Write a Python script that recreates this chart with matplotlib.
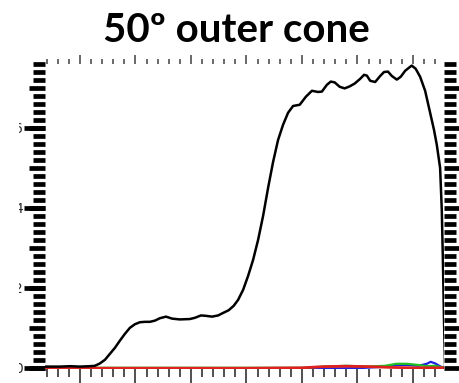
import matplotlib
matplotlib.use('Agg')
import matplotlib.pyplot as plt
from matplotlib.ticker import MultipleLocator, NullLocator
from matplotlib.transforms import Bbox

# ---- data ----
x_black = [-6.3, -3.6, -1.8, 0.0, 1.8, 2.7, 3.6, 4.5, 5.4, 6.3, 7.2, 8.1, 9.0, 9.9,
           10.8, 11.7, 12.6, 13.5, 14.4, 15.5, 16.6, 18.0, 19.8, 20.7, 21.8, 22.7,
           23.8, 24.9, 25.9, 26.8, 27.7, 28.5, 29.4, 30.3, 31.2, 32.1, 33.0, 33.9,
           34.8, 35.7, 36.6, 37.5, 38.4, 39.6, 40.7, 41.8, 42.9, 43.6, 44.5, 45.2,
           45.9, 46.8, 47.7, 48.6, 49.5, 50.5, 51.2, 51.7, 52.3, 53.2, 54.1, 54.8,
           55.5, 56.2, 57.1, 57.8, 58.6, 59.5, 59.8, 60.5, 61.3, 62.2, 63.1, 63.8,
           64.3, 64.9, 65.2, 65.4, 65.6, 65.8]
y_black = [0.03, 0.03, 0.04, 0.03, 0.04, 0.05, 0.11, 0.2, 0.35, 0.5, 0.68, 0.85, 1.0, 1.09,
           1.14, 1.15, 1.15, 1.18, 1.24, 1.28, 1.23, 1.21, 1.22, 1.25, 1.31, 1.30,
           1.28, 1.31, 1.38, 1.44, 1.55, 1.7, 1.95, 2.3, 2.7, 3.2, 3.8, 4.5,
           5.15, 5.7, 6.08, 6.38, 6.55, 6.58, 6.78, 6.93, 6.9, 6.91, 7.08, 7.16,
           7.14, 7.03, 6.99, 7.04, 7.11, 7.23, 7.33, 7.31, 7.18, 7.15, 7.3, 7.4,
           7.41, 7.3, 7.21, 7.28, 7.43, 7.53, 7.56, 7.48, 7.28, 6.93, 6.38, 5.95,
           5.58, 5.0, 3.95, 2.7, 1.2, 0.0]

x_red = [-6.3, 10.0, 30.0, 40.0, 44.0, 48.0, 52.0, 56.0, 60.0, 65.6]
y_red = [-0.01, -0.01, -0.01, 0.0, 0.03, 0.04, 0.03, 0.01, 0.0, 0.0]

x_green = [-6.3, 20.0, 40.0, 44.0, 48.0, 52.0, 55.0, 57.0, 59.0, 61.0, 62.5, 64.0, 65.6]
y_green = [0.0, 0.0, 0.0, 0.03, 0.05, 0.03, 0.05, 0.1, 0.1, 0.07, 0.04, 0.05, 0.0]

x_blue = [-6.3, 20.0, 40.0, 50.0, 54.0, 57.0, 59.0, 61.0, 62.5, 63.2, 64.0, 65.0, 65.6]
y_blue = [-0.03, -0.03, -0.02, -0.01, 0.02, 0.07, 0.07, 0.05, 0.1, 0.15, 0.11, 0.03, 0.0]

ytick_vals = [0, 2, 4, 6]
ytick_labels = ['0', '2', '4', '6']
title_text = '50\u00ba outer cone'

# ---- figure ----
W, H = 459, 383
fig = plt.figure(figsize=(W / 100, H / 100), dpi=100)
ax = fig.add_axes([45 / W, (H - 369) / H, (444 - 45) / W, (369 - 64) / H])

ax.plot(x_blue, y_blue, color='#1f1fe0', lw=1.6)
ax.plot(x_green, y_green, color='#1fc01f', lw=1.6)
ax.plot(x_red, y_red, color='#e01f1f', lw=2.0)
ax.plot(x_black, y_black, color='black', lw=1.8)

ax.set_xlim(-6.3, 65.6)
ax.set_ylim(-0.03, 7.6)
for s in ax.spines.values():
    s.set_visible(False)

ax.xaxis.set_major_locator(MultipleLocator(10))
ax.xaxis.set_minor_locator(MultipleLocator(2))
ax.tick_params(axis='x', which='major', direction='out', length=10.8, width=1.4,
               color='#505050', labelbottom=False)
ax.tick_params(axis='x', which='minor', direction='out', length=5.8, width=1.4,
               color='#505050')

ax.yaxis.set_major_locator(MultipleLocator(1))
ax.yaxis.set_minor_locator(MultipleLocator(0.2))
ax.tick_params(axis='y', which='both', left=True, right=True, direction='out',
               width=3.4, color='black', labelleft=False)
ax.tick_params(axis='y', which='major', length=11.5)
ax.tick_params(axis='y', which='minor', length=8.6)

top = ax.secondary_xaxis('top')
top.xaxis.set_major_locator(MultipleLocator(10))
top.xaxis.set_minor_locator(MultipleLocator(2))
top.tick_params(which='major', direction='out', length=6.5, width=1.1, color='#404040',
                labeltop=False)
top.tick_params(which='minor', direction='out', length=3.6, width=1.1, color='#404040')
for s in top.spines.values():
    s.set_visible(False)

sec = ax.secondary_yaxis('left')
sec.set_yticks(ytick_vals, labels=ytick_labels)
sec.yaxis.set_minor_locator(NullLocator())
sec.tick_params(direction='out', length=15.1, width=3.4, color='black', pad=1,
                labelsize=10, labelcolor='#303030')
for s in sec.spines.values():
    s.set_visible(False)

fig.text(236 / W, 1 - 42 / H, title_text, ha='center', va='baseline',
         fontsize=29, fontweight='bold', family='Lato')

fig.canvas.draw()
clip = Bbox.from_extents(19, 0, 25, H)
for t in sec.get_yticklabels():
    t.set_clip_box(clip)
    t.set_clip_on(True)

fig.savefig('out.png', dpi=100)
